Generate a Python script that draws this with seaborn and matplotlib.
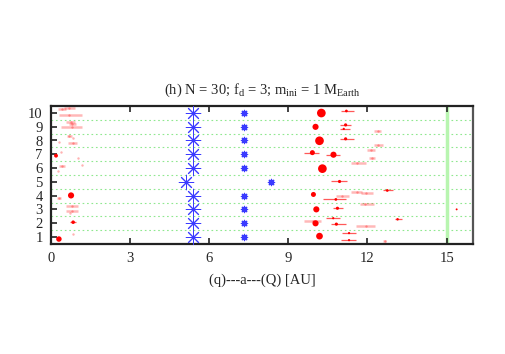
import matplotlib
matplotlib.use("Agg")
import matplotlib.pyplot as plt
import seaborn as sns
import numpy as np

# giant planets, one per run (row)
runs = [1, 2, 3, 4, 5, 6, 7, 8, 9, 10]
jup_a = [5.4, 5.4, 5.4, 5.4, 5.13, 5.4, 5.4, 5.4, 5.4, 5.4]
sat_a = [7.3, 7.3, 7.3, 7.3, 8.35, 7.3, 7.3, 7.3, 7.3, 7.3]

# smaller bodies: semi-major axis, pericentre, apocentre, row position, mass [M_Earth]
a_au = [0.42, 0.68, 0.70, 10.25, 11.20,
        0.75, 0.80, 0.78, 10.03, 11.17, 11.10, 12.40,
        0.70, 0.84, 0.82, 10.18, 11.17, 12.40,
        0.30, 0.38, 0.19, 1.03, 1.18, 9.91, 10.71, 12.12, 12.17,
        0.42, 0.27, 10.29, 11.60,
        10.94, 12.75,
        0.76, 0.30, 9.95, 11.60, 11.96, 11.03, 10.80, 11.90,
        0.80, 0.80, 0.72, 10.06, 10.86,
        0.84, 0.84, 9.95, 10.03, 10.70, 10.82, 11.95, 13.14, 15.38,
        0.30, 10.18, 11.30, 11.30, 12.65]
q_au = [0.27, 0.49, 0.30, 10.25, 11.00,
        0.57, 0.68, 0.38, 10.03, 10.94, 10.94, 12.23,
        0.61, 0.84, 0.65, 10.18, 10.94, 12.23,
        0.30, 0.38, 0.19, 1.03, 1.18, 9.60, 10.44, 12.00, 12.04,
        0.30, 0.27, 10.29, 11.39,
        10.63, 12.57,
        0.76, 0.23, 9.95, 11.39, 11.74, 10.79, 10.33, 11.70,
        0.57, 0.57, 0.72, 10.06, 10.71,
        0.72, 0.84, 9.61, 10.03, 10.44, 10.63, 11.55, 13.06, 15.38,
        0.30, 10.18, 11.05, 11.00, 12.60]
Q_au = [0.57, 0.91, 1.18, 10.25, 11.50,
        0.91, 0.95, 1.18, 10.03, 11.39, 11.32, 12.53,
        0.80, 0.84, 0.99, 10.18, 11.50, 12.57,
        0.30, 0.38, 0.19, 1.03, 1.18, 10.18, 10.94, 12.27, 12.30,
        0.53, 0.27, 10.29, 11.93,
        11.24, 12.95,
        0.76, 0.38, 9.95, 11.81, 12.19, 11.28, 11.17, 12.23,
        1.03, 1.03, 0.72, 10.06, 11.09,
        0.95, 0.84, 10.25, 10.03, 10.94, 11.17, 12.30, 13.29, 15.38,
        0.30, 10.18, 11.55, 11.58, 12.70]
y_row = [10.28, 10.35, 9.85, 9.99, 10.14,
         9.35, 9.20, 8.95, 8.99, 9.13, 8.84, 8.70,
         8.34, 8.20, 7.83, 7.98, 8.12, 7.69,
         7.90, 7.19, 6.90, 6.76, 6.25, 7.12, 6.97, 7.33, 6.76,
         6.18, 5.82, 5.96, 6.40,
         5.03, 4.38,
         4.02, 3.80, 4.09, 4.24, 4.17, 3.95, 3.73, 3.37,
         3.23, 2.87, 2.73, 3.01, 3.09,
         2.08, 1.22, 2.15, 2.00, 2.37, 1.94, 1.79, 2.29, 3.01,
         0.86, 1.07, 1.29, 0.78, 0.71]
mass = [0.1, 0.1, 0.1, 3.0, 0.3,
        0.1, 0.1, 0.1, 1.5, 0.4, 0.2, 0.1,
        0.1, 0.1, 0.1, 3.0, 0.4, 0.1,
        0.1, 0.1, 0.6, 0.1, 0.1, 1.0, 1.5, 0.1, 0.1,
        0.1, 0.1, 3.0, 0.1,
        0.4, 0.3,
        1.5, 0.1, 1.0, 0.1, 0.1, 0.1, 0.3, 0.1,
        0.1, 0.1, 0.1, 1.5, 0.4,
        0.5, 0.1, 0.1, 1.5, 0.2, 0.4, 0.1, 0.25, 0.15,
        1.2, 1.8, 0.2, 0.2, 0.1]

sns.set_style("ticks")
plt.rcParams["font.family"] = ["Liberation Serif", "DejaVu Serif"]
plt.rcParams["mathtext.fontset"] = "custom"
plt.rcParams["mathtext.rm"] = "Liberation Serif"
plt.rcParams["mathtext.it"] = "Liberation Serif:italic"

fig = plt.figure(figsize=(5.06, 3.54), dpi=100)
ax = fig.add_axes([51 / 506, 1 - 244 / 354, 422 / 506, 138 / 354])

for yy in np.arange(1.5, 10, 1.0):
    ax.axhline(yy, color="#8fe88f", lw=0.8, ls=(0, (1.5, 2.5)), zorder=0)
ax.axvline(15, color="#b8f5b0", lw=2.5, zorder=0)

a_arr = np.array(a_au)
y_arr = np.array(y_row)
m_arr = np.array(mass)
faint = m_arr < 0.12
line_col = [(1, 0, 0, 0.28) if m < 0.12 else (1, 0, 0, 0.65) for m in mass]
line_w = [1.8 if m < 0.12 else 0.9 for m in mass]
ax.hlines(y_row, q_au, Q_au, colors=line_col, linewidths=line_w, zorder=2)

sizes = 13 * m_arr
sns.scatterplot(x=a_arr[~faint], y=y_arr[~faint], s=sizes[~faint],
                color="red", linewidth=0, ax=ax, zorder=3, legend=False)
sns.scatterplot(x=a_arr[faint], y=y_arr[faint], s=3,
                color=(1, 0, 0, 0.3), linewidth=0, ax=ax, zorder=3, legend=False)

ax.scatter(jup_a, runs, s=110, marker=(8, 2, 0), color="#3a3aff", linewidths=0.7, zorder=4)
ax.scatter(sat_a, runs, s=20, marker=(8, 2, 0), color="#3a3aff", linewidths=0.9, zorder=4)

ax.set_xlim(0, 16)
ax.set_ylim(0.5, 10.5)
ax.set_xticks([0, 3, 6, 9, 12, 15])
ax.set_yticks(range(1, 11))
ax.tick_params(direction="in", length=4, width=1.2, labelsize=10.5, top=True, right=False,
               color="#222222", pad=6)
for s in ax.spines.values():
    s.set_linewidth(1.6)
    s.set_color("#222222")
ax.spines["right"].set_color("#555555")

ax.set_xlabel("(q)---a---(Q) [AU]", fontsize=10.5, labelpad=6)
ax.set_title(r"(h) N = 30; f$_\mathrm{d}$ = 3; m$_\mathrm{ini}$ = 1 M$_\mathrm{Earth}$",
             fontsize=10.5, pad=9)

fig.savefig("out.png", dpi=100)
